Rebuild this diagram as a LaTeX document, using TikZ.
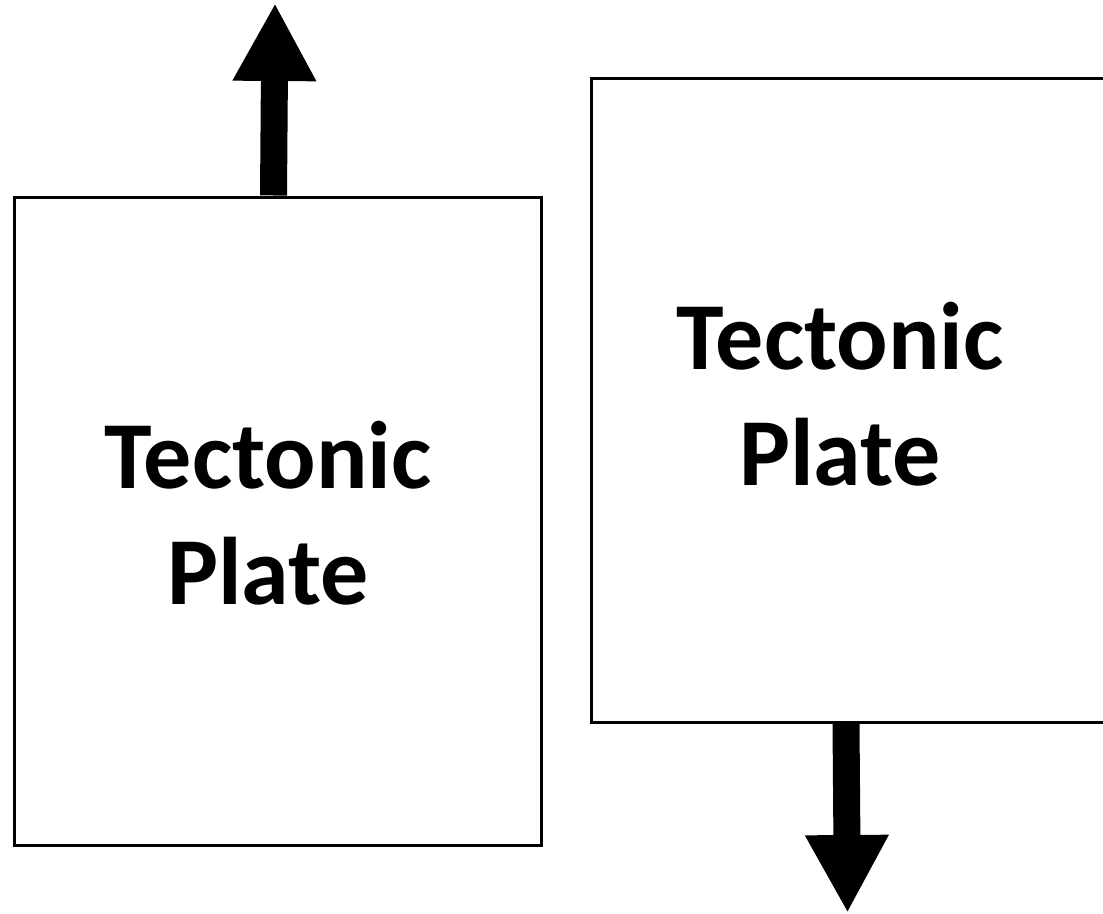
\documentclass[tikz,border=0pt]{standalone}
\usepackage{fontspec}
\setmainfont{Carlito}
\usetikzlibrary{arrows.meta,calc}
\begin{document}
\begin{tikzpicture}[x=1pt,y=-1pt,
  plate/.style={draw=black,line width=3pt,fill=white,inner sep=0pt,rectangle},
  platelabel/.style={inner sep=0pt,align=center,font=\fontsize{96}{116}\selectfont\bfseries},
  motion/.style={line width=27pt,-{Triangle[width=78pt,length=78pt]}}]
\useasboundingbox (0,0) rectangle (1103,913);
\clip (0,0) rectangle (1103,913);
\node[plate,minimum width=527pt,minimum height=648pt] (lbox) at (277.5,521) {};
\node[plate,minimum width=530pt,minimum height=644pt] (rbox) at (856,400) {};
\node[platelabel] (ltext) at (268,513) {Tectonic\\Plate};
\node[platelabel] (rtext) at (840,394) {Tectonic\\Plate};
\coordinate (uptip) at (275,3);
\coordinate (downtip) at (847.5,913);
\draw[motion] ($(lbox.north west)+(261,0)$) -- (uptip);
\draw[motion] ($(rbox.south west)+(256.5,0)$) -- (downtip);
\end{tikzpicture}
\end{document}
